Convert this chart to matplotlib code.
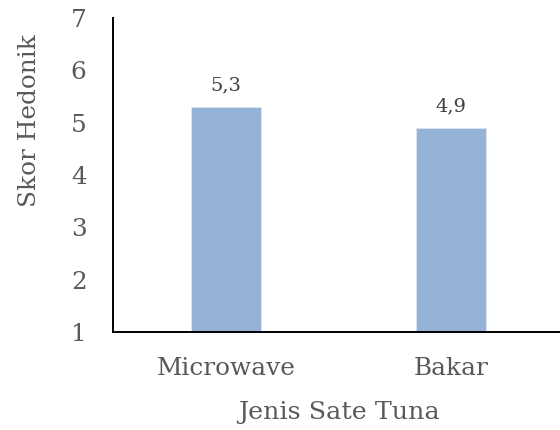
import matplotlib
matplotlib.use("Agg")
import matplotlib.pyplot as plt

categories = ["Microwave", "Bakar"]
scores = [5.3, 4.9]
value_labels = ["5,3", "4,9"]
y_ticks = [1, 2, 3, 4, 5, 6, 7]

plt.rcParams["font.family"] = ["DejaVu Serif"]
text_gray = "#595959"

fig = plt.figure(figsize=(5.6, 4.3), dpi=100)
ax = fig.add_axes([113 / 560, 98 / 430, 451 / 560, 314 / 430])

x = list(range(len(categories)))
ax.bar(x, [s - 1 for s in scores], bottom=1, width=0.31, color="#95B3D7",
       edgecolor="#DCE6F2", linewidth=0.6)

for xi, s, lab in zip(x, scores, value_labels):
    ax.annotate(lab, (xi, s), xytext=(0, 9), textcoords="offset points",
                ha="center", va="bottom", fontsize=14, color="#404040")

ax.set_xlim(-0.5, 1.5)
ax.set_ylim(1, 7)
ax.set_yticks(y_ticks)
ax.set_yticklabels([str(t) for t in y_ticks])
ax.set_xticks(x)
ax.set_xticklabels(categories)
ax.tick_params(axis="both", length=0, labelsize=17.8, labelcolor=text_gray)
ax.tick_params(axis="y", pad=19)
ax.tick_params(axis="x", pad=18)

for side in ("top", "right"):
    ax.spines[side].set_visible(False)
for side in ("left", "bottom"):
    ax.spines[side].set_color("black")
    ax.spines[side].set_linewidth(1.4)

fig.text(338.5 / 560, 1 - 413 / 430, "Jenis Sate Tuna", ha="center", va="center",
         fontsize=18.3, color=text_gray)
fig.text(30 / 560, 1 - 121 / 430, "Skor Hedonik", ha="center", va="center",
         rotation=90, fontsize=17.8, color=text_gray)

fig.savefig("out.png", dpi=100, facecolor="white")
